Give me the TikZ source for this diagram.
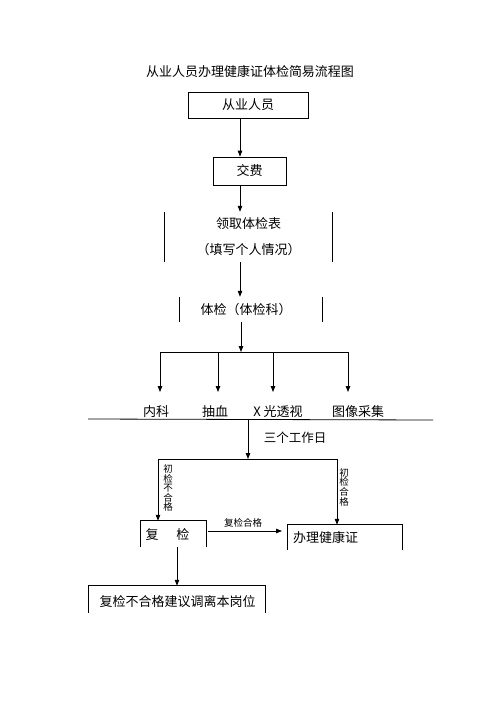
\documentclass[tikz,border=0pt]{standalone}
\usepackage{fontspec}
\setmainfont{Noto Sans CJK SC}
\usetikzlibrary{arrows.meta}
\begin{document}
\begin{tikzpicture}[x=1pt,y=-1pt,
  every node/.style={inner sep=0pt, font=\fontsize{13}{15}\selectfont},
  small/.style={font=\fontsize{9.5}{9.6}\selectfont, align=center},
  arr/.style={-{Triangle[length=6pt,width=4.5pt]}, line width=0.8pt},
  ln/.style={line width=0.8pt},
  box/.style={draw, line width=0.8pt},
  frame/.style={inner sep=0pt, minimum width=#1}
]
\useasboundingbox (0,0) rectangle (496,702);

% title
\node (title) at (250,72) {从业人员办理健康证体检简易流程图};

% boxes
\node[box, minimum width=120, minimum height=26] (n1) at (248,105) {从业人员};
\node[box, minimum width=73, minimum height=28] (n2) at (249.5,171) {交费};

\coordinate (ax) at (240,0);
\draw[arr] (n1.south -| ax) -- (n2.north -| ax);

% bracket 3
\node[align=center, minimum width=167, minimum height=50, font=\fontsize{13}{26}\selectfont] (b3) at (248.5,237) {领取体检表\\（填写个人情况）};
\draw[ln] (b3.north west) -- (b3.south west);
\draw[ln] (b3.north east) -- (b3.south east);
\draw[arr] (n2.south -| ax) -- (b3.north -| ax);

% bracket 4
\node[minimum width=142, minimum height=25] (b4) at (251,309.5) {};
\node (t4) at (246,310) {体检（体检科）};
\draw[ln] (b4.north west) -- (b4.south west);
\draw[ln] (b4.north east) -- (b4.south east);
\draw[arr] (b3.south -| ax) -- (b4.north -| ax);

% branch
\coordinate (bl) at (160,352);
\coordinate (br) at (348,352);
\coordinate (bm) at (241,352);
\draw[arr] (b4.south -| bm) -- (bm);
\draw[ln] (bl) -- (br);

\node (k1) at (156,412) {内科};
\node (k2) at (215,412) {抽血};
\node (k3) at (278,412) {X 光透视};
\node (k4) at (358,412) {图像采集};
\coordinate (x2) at (218,352);
\coordinate (x3) at (273,352);
\draw[arr] (bl) -- (160,392);
\draw[arr] (x2) -- (218,392);
\draw[arr] (x3) -- (273,392);
\draw[arr] (br) -- (348,392);

% long line
\coordinate (l1) at (88,419);
\coordinate (l2) at (433,420);
\draw[ln] (l1) -- (l2);

% three days
\coordinate (d1) at (248,419.5);
\coordinate (d2) at (248,459);
\draw[arr] (d1) -- (d2);
\node[font=\fontsize{12.5}{14}\selectfont] (days) at (295,438) {三个工作日};

\coordinate (s1) at (158,459);
\coordinate (s2) at (337,459);
\draw[ln] (s1) -- (s2);

% recheck box (open bottom)
\node[minimum width=65, minimum height=26] (fj) at (173.5,534) {};
\node (fjt) at (167.5,535) {复\hspace{18pt}检};
\draw[ln] (fj.south west) -- (fj.north west) -- (fj.north east) -- (fj.south east);

% certificate box (open bottom)
\node[minimum width=114, minimum height=25] (bz) at (345,537.5) {};
\node[anchor=west] (bzt) at (293,538) {办理健康证};
\draw[ln] (bz.south west) -- (bz.north west) -- (bz.north east) -- (bz.south east);

\draw[arr] (s1) -- (s1 |- fj.north);
\draw[arr] (s2) -- (s2 |- bz.north);
\node[small] (lab1) at (168,488) {初\\检\\不\\合\\格};
\node[small] (lab2) at (344,487) {初\\检\\合\\格};

\coordinate (h1) at (208,531);
\coordinate (h2) at (282,531);
\draw[arr] (h1) -- (h2);
\node[font=\fontsize{9.5}{11}\selectfont] (lab3) at (243,523) {复检合格};

% bottom box (open bottom)
\node[minimum width=176, minimum height=27] (fb) at (177,599.5) {};
\node (fbt) at (177.5,602) {复检不合格建议调离本岗位};
\draw[ln] (fb.south west) -- (fb.north west) -- (fb.north east) -- (fb.south east);

\coordinate (v) at (177,0);
\draw[arr] (fj.south -| v) -- (fb.north -| v);
\end{tikzpicture}
\end{document}
